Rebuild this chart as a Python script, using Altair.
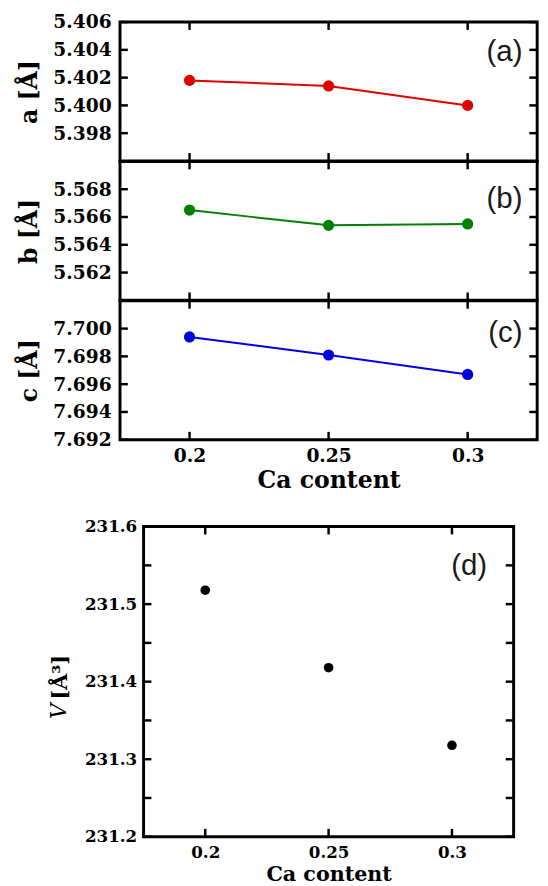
import altair as alt
import pandas as pd

# ---------------- data ----------------
ca = [0.2, 0.25, 0.3]
a_vals = [5.4018, 5.4014, 5.4000]
b_vals = [5.5665, 5.5654, 5.5655]
c_vals = [7.6994, 7.6981, 7.6967]
v_vals = [231.518, 231.418, 231.318]

x_ticks = [0.2, 0.25, 0.3]
a_ticks = [5.398, 5.400, 5.402, 5.404, 5.406]
b_ticks = [5.562, 5.564, 5.566, 5.568]
c_ticks = [7.692, 7.694, 7.696, 7.698, 7.700]
v_labels = [231.2, 231.3, 231.4, 231.5, 231.6]
v_ticks = [231.2, 231.25, 231.3, 231.35, 231.4, 231.45, 231.5, 231.55, 231.6]

x_domain = [0.175, 0.325]
a_domain = [5.396, 5.406]
b_domain = [5.560, 5.570]
c_domain = [7.692, 7.702]
v_domain = [231.2, 231.6]

SERIF = "DejaVu Serif"
SANS = "Liberation Sans"

W_TOP, H_TOP = 425, 141.5
W_D, H_D = 377, 316
TICK = 8
TW = 2.5


def panel(vals, color, ydom, yticks, ylabels, yfmt, ytitle, W, H, xaxis,
          size, draw_line, tag, tag_y, tag_right, lab_size, title_size,
          ytitle_kw=None, extra=None):
    df = pd.DataFrame({"x": ca, "y": vals})
    xs = alt.Scale(domain=x_domain, nice=False, zero=False)
    ys = alt.Scale(domain=ydom, nice=False, zero=False)
    ykw = dict(values=ylabels, format=yfmt, ticks=False, domain=False, grid=False,
               title=ytitle, labelFont=SERIF, labelFontWeight="bold",
               labelFontSize=lab_size, labelColor="black", labelPadding=9,
               titleFont=SERIF, titleFontWeight="bold", titleFontSize=title_size,
               titleColor="black", titlePadding=12)
    if ytitle_kw:
        ykw.update(ytitle_kw)
    yaxis = alt.Axis(**ykw)
    X = alt.X("x:Q", scale=xs, axis=xaxis)
    Y = alt.Y("y:Q", scale=ys, axis=yaxis)

    layers = []
    if draw_line:
        layers.append(alt.Chart(df).mark_line(color=color, strokeWidth=2).encode(x=X, y=Y))
    layers.append(alt.Chart(df).mark_circle(color=color, size=size, opacity=1).encode(x=X, y=Y))

    yt = pd.DataFrame({"y": yticks})
    xt = pd.DataFrame({"x": x_ticks})
    rule = dict(color="black", strokeWidth=TW)
    layers.append(alt.Chart(yt).mark_rule(**rule).encode(y=Y, x=alt.value(0), x2=alt.value(TICK)))
    layers.append(alt.Chart(yt).mark_rule(**rule).encode(y=Y, x=alt.value(W - TICK), x2=alt.value(W)))
    layers.append(alt.Chart(xt).mark_rule(**rule).encode(x=X, y=alt.value(0), y2=alt.value(TICK)))
    layers.append(alt.Chart(xt).mark_rule(**rule).encode(x=X, y=alt.value(H - TICK), y2=alt.value(H)))

    tdf = pd.DataFrame({"t": [tag]})
    layers.append(alt.Chart(tdf).mark_text(font=SANS, fontSize=30, align="right",
                                           baseline="middle", color="#1a1a1a").encode(
        text="t:N", x=alt.value(W - tag_right), y=alt.value(tag_y)))
    if extra is not None:
        layers.append(extra)
    return alt.layer(*layers).properties(width=W, height=H)


def x_axis(lab_size, title_size, lab_pad, title_pad):
    return alt.Axis(values=x_ticks, format="~g", ticks=False, domain=False, grid=False,
                    title="Ca content", labelFont=SERIF, labelFontWeight="bold",
                    labelFontSize=lab_size, labelColor="black", labelPadding=lab_pad,
                    labelFlush=False,
                    titleFont=SERIF, titleFontWeight="bold", titleFontSize=title_size,
                    titleColor="black", titlePadding=title_pad)


pa = panel(a_vals, "#e00000", a_domain, a_ticks, a_ticks, ".3f", "a [Å]", W_TOP, H_TOP,
           None, 130, True, "(a)", 31, 15, 19, 24)
pb = panel(b_vals, "#008000", b_domain, b_ticks, b_ticks, ".3f", "b [Å]", W_TOP, H_TOP,
           None, 130, True, "(b)", 38, 15, 19, 24)
pc = panel(c_vals, "#0000e0", c_domain, c_ticks, c_ticks, ".3f", "c [Å]", W_TOP, H_TOP,
           x_axis(19, 24, 7, 4), 130, True, "(c)", 33, 15, 19, 24)

vdf = pd.DataFrame({"t": ["V"]})
v_text = alt.Chart(vdf).mark_text(font=SERIF, fontStyle="italic", fontSize=22, angle=270,
                                  align="center", baseline="alphabetic", color="black").encode(
    text="t:N", x=alt.value(-79), y=alt.value(188))

pd_ = panel(v_vals, "black", v_domain, v_ticks, v_labels, ".1f", "[Å³]", W_D, H_D,
            x_axis(17, 21, 8, 4), 95, False, "(d)", 40, 27, 17, 21,
            ytitle_kw=dict(titleX=-79, titleY=153, titleAngle=270, titleAlign="center",
                           titleBaseline="alphabetic", labelPadding=7),
            extra=v_text)

top = alt.vconcat(pa, pb, pc, spacing=0, bounds="flush")
chart = alt.vconcat(top, pd_, spacing=22, center=True).properties(
    padding={"left": 8, "top": -5, "right": 0, "bottom": 0}
).configure_view(stroke="black", strokeWidth=3)

chart.save("out.html", embed_options={"renderer": "svg", "actions": False})
